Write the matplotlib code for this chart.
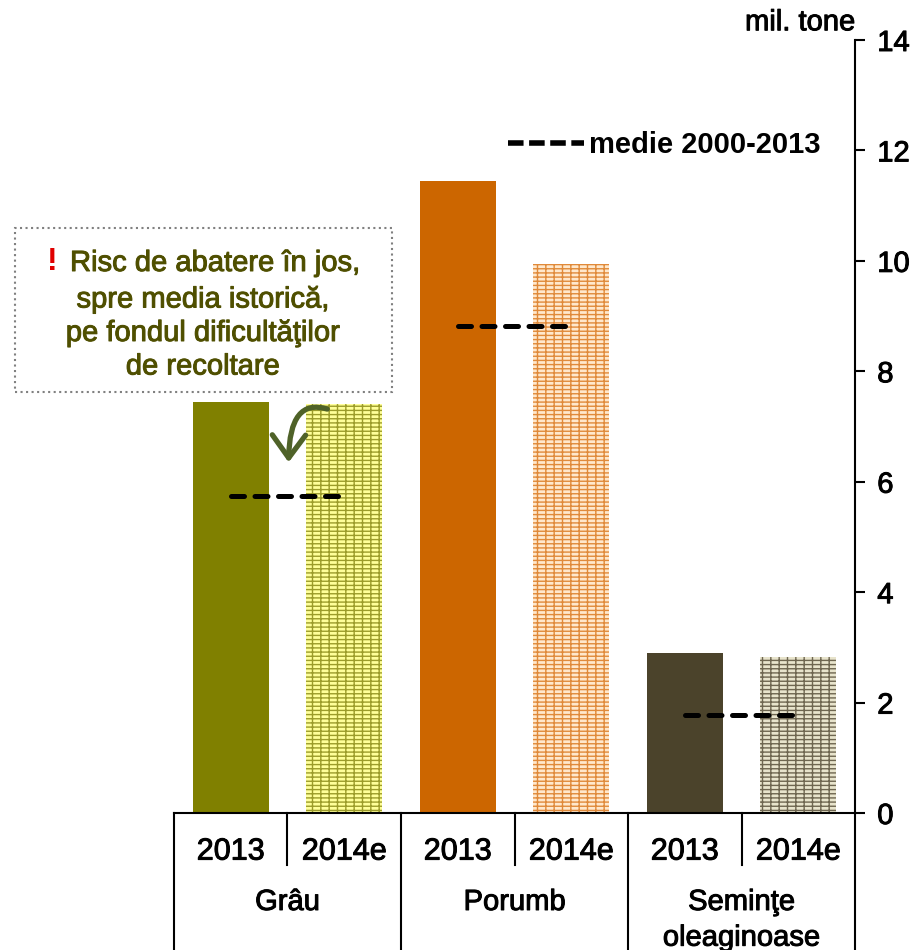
import matplotlib
matplotlib.use('Agg')
import matplotlib.pyplot as plt
import matplotlib.patheffects as pe
from matplotlib.patches import Rectangle, FancyArrowPatch
from matplotlib.lines import Line2D

plt.rcParams['font.family'] = ['Liberation Sans', 'DejaVu Sans']
plt.rcParams['hatch.linewidth'] = 1.0

# data (mil. tone)
crops = ['Grâu', 'Porumb', 'Seminţe\noleaginoase']
years = ['2013', '2014e']
prod_2013 = [7.45, 11.45, 2.9]
prod_2014e = [7.4, 9.95, 2.83]
medie = [5.75, 8.82, 1.78]
yticks = [0, 2, 4, 6, 8, 10, 12, 14]

col_2013 = ['#808000', '#cc6600', '#4b432b']
fill_2014e = ['#ffff99', '#ffe8cc', '#e8e4cc']
hatch_2014e = ['#9c9c2a', '#e08a3a', '#6e6650']

fs = 21


def thick(c='black'):
    # text in the original looks a bit heavier than plain Liberation Sans
    return [pe.withStroke(linewidth=0.7, foreground=c)]


fig = plt.figure(figsize=(9.19, 9.5), dpi=100)
ax = fig.add_axes([0.1893, 0.1442, 0.7411, 0.8137])

for i in range(len(crops)):
    ax.bar(2*i, prod_2013[i], width=0.67, color=col_2013[i], linewidth=0)
    ax.bar(2*i + 1, prod_2014e[i], width=0.67, facecolor=fill_2014e[i],
           edgecolor=hatch_2014e[i], hatch='----||', linewidth=0)
    ax.plot([2*i, 2*i + 1], [medie[i], medie[i]], color='black', lw=3.6,
            linestyle=(0, (2.6, 2.1)), dash_capstyle='round')

ax.set_xlim(-0.5, 5.5)
ax.set_ylim(0, 14)

# right value axis
ax.yaxis.tick_right()
ax.set_yticks(yticks)
ax.set_yticklabels([str(t) for t in yticks], fontsize=fs)
ax.tick_params(axis='y', direction='out', length=7, width=1.5, pad=9)
for s in ['left', 'top']:
    ax.spines[s].set_visible(False)
ax.spines['right'].set_linewidth(1.5)
ax.spines['bottom'].set_linewidth(1.5)

# category axis with two levels
ax.set_xticks(range(6))
ax.set_xticklabels(years * len(crops), fontsize=22)
ax.tick_params(axis='x', length=0, pad=17)
for lab in ax.get_xticklabels() + ax.get_yticklabels():
    lab.set_path_effects(thick())
tr = ax.get_xaxis_transform()
for k in range(len(crops)):
    ax.plot([2*k + 0.5, 2*k + 0.5], [0, -0.067], transform=tr, color='black',
            lw=1.5, clip_on=False)
for k in range(len(crops) + 1):
    ax.plot([2*k - 0.5, 2*k - 0.5], [0, -0.25], transform=tr, color='black',
            lw=1.5, clip_on=False)
for k, name in enumerate(crops):
    ax.text(2*k + 0.5, -0.097, name, transform=tr, ha='center', va='top',
            fontsize=fs, linespacing=1.35, path_effects=thick())

ax.annotate('mil. tone', xy=(1.0, 1.0), xycoords='axes fraction',
            xytext=(0, 7), textcoords='offset points', ha='right',
            va='baseline', fontsize=fs, path_effects=thick())

# legend
h = Line2D([], [], color='black', lw=4, linestyle=(0, (2.8, 1.0)))
ax.legend([h], ['medie 2000-2013'], loc='center left',
          bbox_to_anchor=(0.49, 0.864), frameon=False, handlelength=2.6,
          handletextpad=0.2, borderpad=0, borderaxespad=0,
          prop={'size': fs, 'weight': 'bold'})

# annotation box
fig.patches.append(Rectangle((15/919, 1 - 392/950), 377/919, 164/950,
                             transform=fig.transFigure, fill=False,
                             edgecolor='#808080', linestyle=':', lw=1.5))
olive = '#4f4f00'
fig.text(47/919, 1 - 262/950, '!', color='#e00000', fontsize=23,
         fontweight='bold', ha='left', va='center')
fig.text(70/919, 1 - 263/950, 'Risc de abatere în jos,', color=olive,
         fontsize=fs, ha='left', va='center', path_effects=thick(olive))
fig.text(203/919, 1 - 333/950,
         'spre media istorică,\npe fondul dificultăţilor\nde recoltare',
         color=olive, fontsize=fs, ha='center', va='center', linespacing=1.25,
         path_effects=thick(olive))

arrow = FancyArrowPatch((0.874, 7.3), (0.51, 6.3),
                        connectionstyle='angle3,angleA=160,angleB=90',
                        arrowstyle='->,head_length=0.55,head_width=0.4',
                        mutation_scale=30, color='#4f6228', lw=3.8)
ax.add_patch(arrow)

fig.savefig('out.png', dpi=100)
